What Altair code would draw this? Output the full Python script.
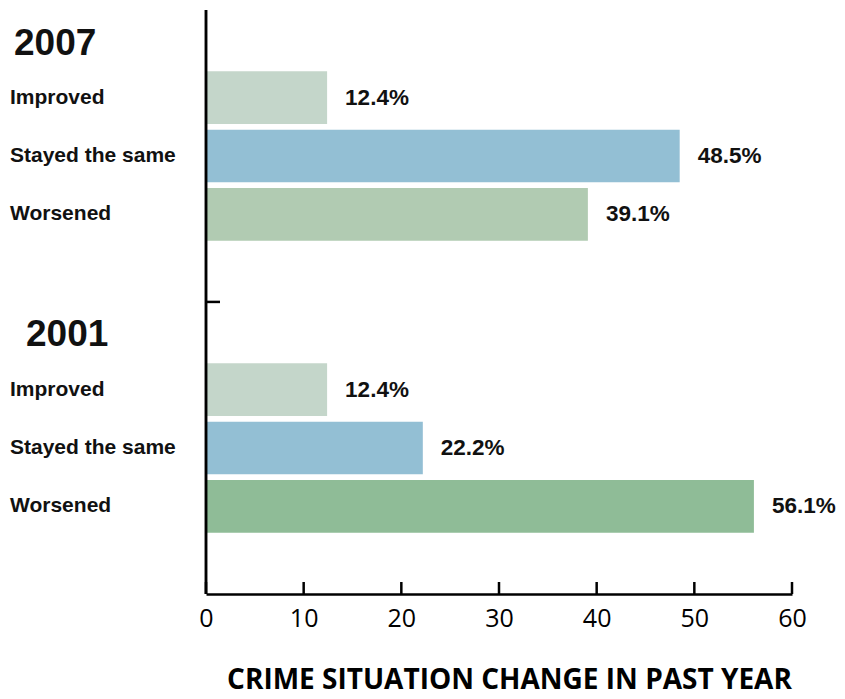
import altair as alt
import pandas as pd

# ---- data ----
years = ["2007", "2007", "2007", "2001", "2001", "2001"]
categories = ["Improved", "Stayed the same", "Worsened",
              "Improved", "Stayed the same", "Worsened"]
values = [12.4, 48.5, 39.1, 12.4, 22.2, 56.1]
bar_colors = ["#c4d6ca", "#93bfd4", "#b1cbb2", "#c4d6ca", "#93bfd4", "#8fbc97"]
x_ticks = [0, 10, 20, 30, 40, 50, 60]
row_order = ["H2007", "2007|Improved", "2007|Stayed the same", "2007|Worsened", "gap1",
             "H2001", "2001|Improved", "2001|Stayed the same", "2001|Worsened", "gap2"]
title_text = "CRIME SITUATION CHANGE IN PAST YEAR"

keys = [f"{y}|{c}" for y, c in zip(years, categories)]
df = pd.DataFrame({"key": keys, "year": years, "cat": categories, "value": values,
                   "label": [f"{v:.1f}%" for v in values]})
hdr = pd.DataFrame({"key": ["H2007", "H2001"], "year": ["2007", "2001"]})
ticks_df = pd.DataFrame({"t": x_ticks})

W, H = 586, 584
yscale = alt.Scale(domain=row_order, paddingInner=0.1, paddingOuter=0.05)
xscale = alt.Scale(domain=[0, 60], nice=False)
LBL = "Liberation Sans"

bars = alt.Chart(df).mark_bar().encode(
    x=alt.X("value:Q", scale=xscale,
            axis=alt.Axis(values=x_ticks, tickSize=0, labelPadding=12, labelFontSize=25,
                          labelFont="Open Sans", labelColor="#000",
                          domainColor="#000", domainWidth=2.5, grid=False,
                          title=title_text, titleFont="Open Sans", titleFontSize=28,
                          titleFontWeight="bold", titleColor="#000", titlePadding=35,
                          titleX=303, labelFlush=False)),
    y=alt.Y("key:N", scale=yscale, axis=None),
    color=alt.Color("key:N", scale=alt.Scale(domain=keys, range=bar_colors), legend=None),
)

values_txt = alt.Chart(df).mark_text(align="left", dx=18, fontSize=22.5, fontWeight="bold",
                                     font=LBL, color="#111").encode(
    x=alt.X("value:Q", scale=xscale), y=alt.Y("key:N", scale=yscale), text="label:N")

cat_txt = alt.Chart(df).mark_text(align="left", fontSize=21, fontWeight="bold",
                                  font=LBL, color="#111").encode(
    x=alt.value(-196), y=alt.Y("key:N", scale=yscale), text="cat:N")

hdr07 = alt.Chart(hdr).transform_filter(alt.datum.year == "2007").mark_text(
    align="left", fontSize=37, fontWeight="bold", font=LBL,
    color="#111", dy=5).encode(
    x=alt.value(-192), y=alt.Y("key:N", scale=yscale), text="year:N")

hdr01 = alt.Chart(hdr).transform_filter(alt.datum.year == "2001").mark_text(
    align="left", fontSize=37, fontWeight="bold", font=LBL,
    color="#111", dy=4).encode(
    x=alt.value(-180), y=alt.Y("key:N", scale=yscale), text="year:N")

yaxis_line = alt.Chart(hdr).mark_rule(color="#000", strokeWidth=2.5).encode(
    x=alt.value(0), y=alt.value(0), y2=alt.value(H))

ytick = alt.Chart(hdr).transform_filter(alt.datum.year == "2001").mark_rule(
    color="#000", strokeWidth=2.5).encode(
    x=alt.value(0), x2=alt.value(14),
    y=alt.Y("key:N", scale=yscale, bandPosition=0), yOffset=alt.value(-3))

xticks = alt.Chart(ticks_df).mark_rule(color="#000", strokeWidth=2.5).encode(
    x=alt.X("t:Q", scale=xscale), y=alt.value(H - 12), y2=alt.value(H))

chart = alt.layer(bars, values_txt, cat_txt, hdr07, hdr01, yaxis_line, ytick, xticks).properties(
    width=W, height=H,
    autosize=alt.AutoSizeParams(type="none"),
    padding={"left": 198, "top": 2, "right": 45, "bottom": 104},
).configure_view(stroke=None)

chart.save("out.html", embed_options={"renderer": "svg", "actions": False})
